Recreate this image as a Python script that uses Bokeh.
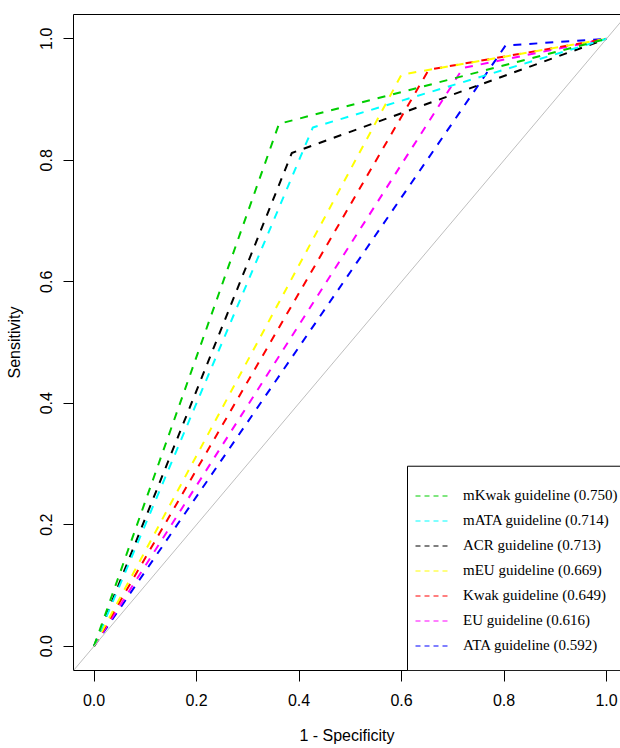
from bokeh.plotting import figure
from bokeh.models import (Range1d, FixedTicker, LinearAxis, Legend, LegendItem,
                          BoxAnnotation, Slope)
from bokeh.embed import file_html
from bokeh.resources import INLINE

# ---- data ----
guidelines = ["mKwak guideline", "mATA guideline", "ACR guideline", "mEU guideline",
              "Kwak guideline", "EU guideline", "ATA guideline"]
auc_values = ["0.750", "0.714", "0.713", "0.669", "0.649", "0.616", "0.592"]
# operating point of each guideline (1 - specificity, sensitivity)
fpr_point = [0.361, 0.427, 0.386, 0.600, 0.653, 0.720, 0.803]
tpr_point = [0.860, 0.854, 0.812, 0.941, 0.949, 0.952, 0.989]
roc_start = [0.0, 0.0]
roc_end = [1.0, 1.0]
colors = ["#00CD00", "#00FFFF", "#000000", "#FFFF00", "#FF0000", "#FF00FF", "#0000FF"]

tick_values = [0.0, 0.2, 0.4, 0.6, 0.8, 1.0]
tick_labels = ["0.0", "0.2", "0.4", "0.6", "0.8", "1.0"]

FONT = "Liberation Sans"

p = figure(width=620, height=748, output_backend="svg", toolbar_location=None,
           x_range=Range1d(-0.04, 1.0273), y_range=Range1d(-0.04, 1.04),
           min_border_left=73, min_border_right=0, min_border_top=14, min_border_bottom=78,
           background_fill_color="white", border_fill_color="white")
p.outline_line_color = None
p.xgrid.visible = False
p.ygrid.visible = False

# diagonal reference line
p.add_layout(Slope(gradient=1, y_intercept=0, line_color="#BEBEBE", line_width=1))

# ROC curves
curves = []
for i in range(len(guidelines)):
    xs = [roc_start[0], fpr_point[i], roc_end[0]]
    ys = [roc_start[1], tpr_point[i], roc_end[1]]
    curves.append((xs, ys))
for i in reversed(range(len(guidelines))):
    xs, ys = curves[i]
    p.line(xs, ys, line_color=colors[i], line_width=2, line_dash="8 8")

# axes styling
for ax, standoff, tick_out in ((p.xaxis[0], 12, 11), (p.yaxis[0], 11, 10)):
    ax.ticker = FixedTicker(ticks=tick_values)
    ax.major_label_overrides = {v: l for v, l in zip(tick_values, tick_labels)}
    ax.minor_tick_line_color = None
    ax.major_tick_in = 0
    ax.major_tick_out = tick_out
    ax.major_label_standoff = standoff
    ax.major_label_text_font = FONT
    ax.major_label_text_font_size = "16px"
    ax.major_label_text_color = "black"
    ax.axis_line_color = "black"
    ax.major_tick_line_color = "black"
    ax.axis_label_text_font = FONT
    ax.axis_label_text_font_size = "16px"
    ax.axis_label_text_font_style = "normal"
    ax.axis_label_text_color = "black"

p.yaxis[0].major_label_orientation = "vertical"
p.yaxis[0].axis_label = "Sensitivity"
p.yaxis[0].axis_label_standoff = 15
p.xaxis[0].axis_label = "1 - Specificity"
p.xaxis[0].axis_label_standoff = 18

# top border of the box
top_axis = LinearAxis(ticker=FixedTicker(ticks=[]), major_tick_out=0, major_tick_in=0,
                      minor_tick_line_color=None, major_label_text_font_size="0px",
                      major_label_standoff=0, axis_line_color="black")
p.add_layout(top_axis, "above")

# legend box
p.add_layout(BoxAnnotation(left=0.6117, right=1.2, top=0.2963, bottom=None,
                           fill_color="white", fill_alpha=1.0,
                           line_color="black", line_width=1, line_alpha=1.0))

items = []
for i in range(len(guidelines)):
    xs, ys = curves[i]
    proxy = p.line(xs, ys, line_color=colors[i], line_width=1.2, line_dash="5 4", visible=False)
    items.append(LegendItem(label=f"{guidelines[i]} ({auc_values[i]})", renderers=[proxy]))

legend = Legend(items=items, location=(342, 14), padding=8, spacing=4,
                label_height=21, glyph_height=21, glyph_width=35, label_standoff=13,
                label_text_font="Liberation Serif", label_text_font_size="15px",
                label_text_color="black", border_line_color=None,
                background_fill_alpha=0.0, inactive_fill_alpha=0.0, margin=0)
p.add_layout(legend, "center")

open("out.html", "w").write(file_html(p, INLINE))
